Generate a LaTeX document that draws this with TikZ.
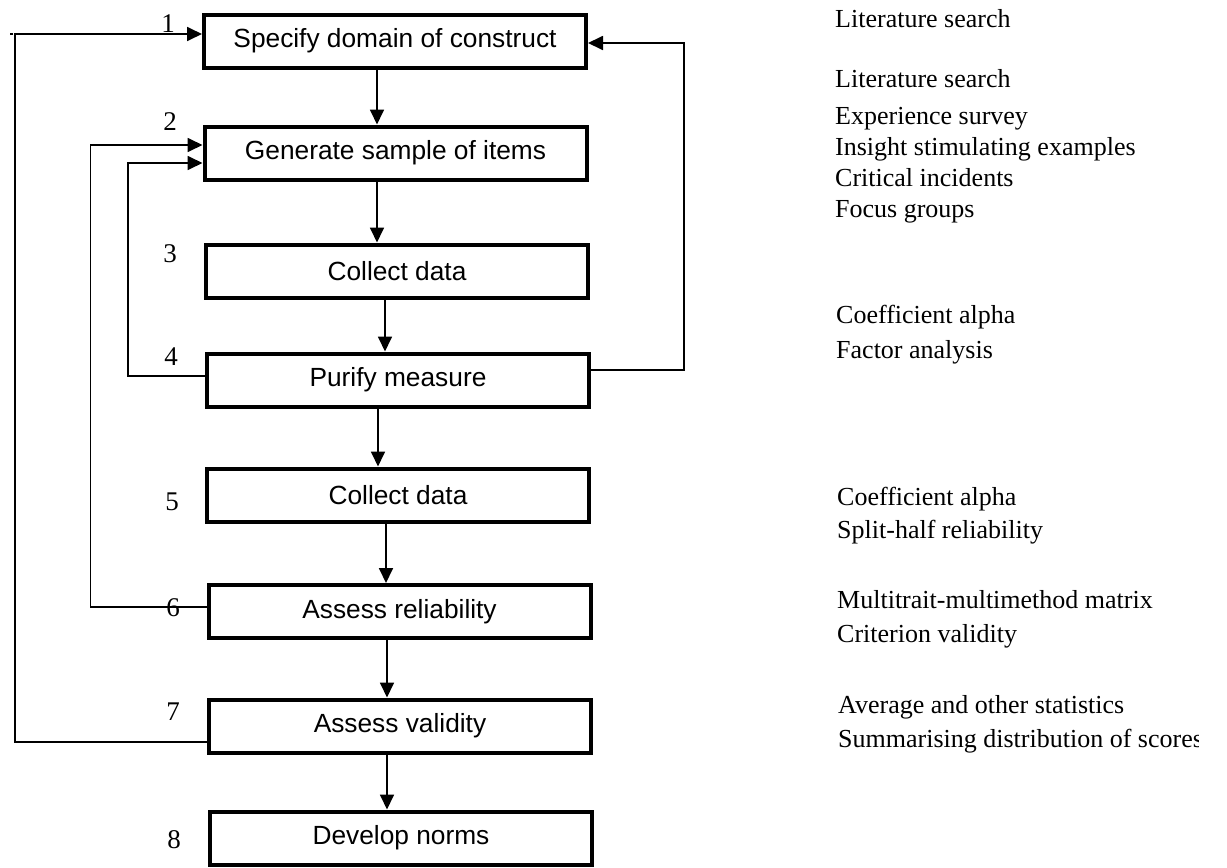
\documentclass[tikz,border=0pt]{standalone}
\usepackage{fontspec}
\setmainfont{Liberation Serif}
\newfontfamily\boxfont{Liberation Sans}
\usetikzlibrary{arrows.meta}

\tikzset{
  stage/.style={draw, line width=4pt, minimum width=382pt, minimum height=53pt,
    inner sep=0pt, font=\boxfont\fontsize{26.3}{30}\selectfont},
  num/.style={inner sep=0pt, font=\fontsize{27}{30}\selectfont},
  tool/.style={inner sep=0pt, anchor=base west, font=\fontsize{26}{30}\selectfont},
  link/.style={line width=1.8pt},
  arr/.style={link, -{Triangle[length=15pt, width=14pt]}}
}

\begin{document}
\begin{tikzpicture}[x=1pt, y=-1pt]
\useasboundingbox (0,0) rectangle (1227,868);

% stages of the procedure
\node[stage] (b1) at (395,41)    {Specify domain of construct};
\node[stage] (b2) at (395.5,153) {Generate sample of items};
\node[stage] (b3) at (397,271)   {Collect data};
\node[stage] (b4) at (398,380)   {Purify measure};
\node[stage] (b5) at (398,495)   {Collect data};
\node[stage] (b6) at (399.5,611.5) {Assess reliability};
\node[stage] (b7) at (400,726)   {Assess validity};
\node[stage] (b8) at (401,838)   {Develop norms};

% step numbers
\node[num] (n1) at (168,24)  {1};
\node[num] (n2) at (170,122) {2};
\node[num] (n3) at (170,254) {3};
\node[num] (n4) at (171,357) {4};
\node[num] (n5) at (172,502) {5};
\node[num] (n7) at (173,712) {7};
\node[num] (n8) at (174,840) {8};

% main flow
\coordinate (t12) at ([xshift=-18pt]b1.south);
\coordinate (t23) at ([xshift=-18.5pt]b2.south);
\coordinate (t34) at ([xshift=-12pt]b3.south);
\coordinate (t45) at ([xshift=-20pt]b4.south);
\coordinate (t56) at ([xshift=-12pt]b5.south);
\coordinate (t67) at ([xshift=-12.5pt]b6.south);
\coordinate (t78) at ([xshift=-13pt]b7.south);
\draw[arr] (t12) -- (t12 |- b2.north);
\draw[arr] (t23) -- (t23 |- b3.north);
\draw[arr] (t34) -- (t34 |- b4.north);
\draw[arr] (t45) -- (t45 |- b5.north);
\draw[arr] (t56) -- (t56 |- b6.north);
\draw[arr] (t67) -- (t67 |- b7.north);
\draw[arr] (t78) -- (t78 |- b8.north);

% feedback loops
\coordinate (f7) at ([yshift=-16pt]b7.west);
\coordinate (f1) at ([yshift=7pt]b1.west);
\draw[arr] (f7) -- ++(-192,0) |- (f1);
\draw[link] ([yshift=7pt,xshift=-189pt]b1.west) -- ++(-3,0);

\coordinate (f6) at ([yshift=4.5pt]b6.west);
\coordinate (f2a) at ([yshift=8pt]b2.west);
\draw[arr] (f6) -- ++(-116,0) |- (f2a);

\coordinate (f4) at ([yshift=4pt]b4.west);
\coordinate (f2b) at ([yshift=-10pt]b2.west);
\draw[arr] (f4) -- ++(-77,0) |- (f2b);

\coordinate (g4) at ([yshift=10pt]b4.east);
\coordinate (g1) at ([yshift=-2pt]b1.east);
\draw[arr] (g4) -- ++(93,0) |- (g1);

% number 6 sits on the loop line
\node[num] (n6) at (173,608) {6};

% methods beside each stage
\node[tool] (m1)  at (835,27)  {Literature search};
\node[tool] (m2)  at (835,87)  {Literature search};
\node[tool] (m3)  at (835,124) {Experience survey};
\node[tool] (m4)  at (835,155) {Insight stimulating examples};
\node[tool] (m5)  at (835,186) {Critical incidents};
\node[tool] (m6)  at (835,217) {Focus groups};
\node[tool] (m7)  at (836,323) {Coefficient alpha};
\node[tool] (m8)  at (836,358) {Factor analysis};
\node[tool] (m9)  at (837,505) {Coefficient alpha};
\node[tool] (m10) at (837,538) {Split-half reliability};
\node[tool] (m11) at (837,608) {Multitrait-multimethod matrix};
\node[tool] (m12) at (837,642) {Criterion validity};
\node[tool] (m13) at (838,713) {Average and other statistics};
\begin{scope}
  \clip (0,0) rectangle (1198,868);
  \node[tool] (m14) at (838,747) {Summarising distribution of scores};
\end{scope}
\end{tikzpicture}
\end{document}
